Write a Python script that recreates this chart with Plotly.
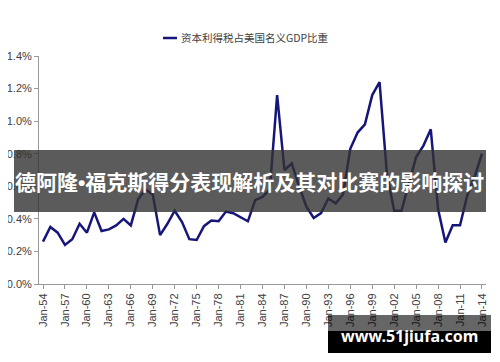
import plotly.graph_objects as go

years = list(range(1954, 2015))
cg_tax_share = [
    0.26, 0.35, 0.315, 0.24, 0.275, 0.37, 0.315, 0.44, 0.325, 0.335,
    0.36, 0.40, 0.36, 0.52, 0.58, 0.55, 0.30, 0.37, 0.45, 0.38,
    0.275, 0.27, 0.355, 0.39, 0.385, 0.445, 0.435, 0.41, 0.385, 0.515,
    0.535, 0.58, 1.16, 0.70, 0.74, 0.60, 0.475, 0.405, 0.435, 0.525,
    0.495, 0.55, 0.83, 0.93, 0.98, 1.16, 1.24, 0.68, 0.45, 0.45,
    0.62, 0.78, 0.85, 0.95, 0.46, 0.255, 0.36, 0.36, 0.545, 0.66,
    0.80,
]
tick_years = years[::3]
tick_labels = ["Jan-%02d" % (y % 100) for y in tick_years]
y_ticks = [0.0, 0.2, 0.4, 0.6, 0.8, 1.0, 1.2, 1.4]
series_name = "资本利得税占美国名义GDP比重"
banner_parts = ["德阿隆", "•", "福克斯得分表现解析及其对比赛的影响探讨"]
watermark_text = "www.51jiufa.com"

# page has an 8px body margin; figure is sized to fit inside the window
OFF = 8
W, H = 484, 346
PL, PR, PT, PB = 39, 486, 56, 284          # plot area in page pixels
L, T = PL - OFF, PT - OFF
R, B = W - (PR - OFF), H - (PB - OFF)
pw, ph = PR - PL, PB - PT


def px(x):
    return (x - PL) / pw


def py(y):
    return (PB - y) / ph


fig = go.Figure()
fig.add_trace(go.Scatter(
    x=years, y=cg_tax_share, mode="lines", name=series_name,
    line=dict(color="#16167a", width=2.5), showlegend=False,
))

tick_font = dict(family="Liberation Sans, Arial", size=11, color="#404040")
fig.update_layout(
    width=W, height=H,
    margin=dict(l=L, r=R, t=T, b=B),
    paper_bgcolor="white", plot_bgcolor="white",
    xaxis=dict(
        range=[1953.45, 2014.55], tickmode="array", tickvals=tick_years,
        ticktext=tick_labels, tickangle=-90, showgrid=False, zeroline=False,
        showline=True, linecolor="#999999", linewidth=1, automargin=False,
        ticks="outside", ticklen=4, tickcolor="#999999", tickfont=tick_font,
    ),
    yaxis=dict(
        range=[0, 1.4], tickmode="array", tickvals=y_ticks,
        ticktext=["%.1f%%" % v for v in y_ticks], showgrid=False,
        zeroline=False, showline=True, linecolor="#999999", linewidth=1,
        automargin=False,
        ticks="outside", ticklen=4, tickcolor="#999999", tickfont=tick_font,
    ),
)

# legend (drawn manually to match short sample line)
fig.add_shape(type="line", xref="paper", yref="paper",
              x0=px(163), x1=px(177), y0=py(38), y1=py(38),
              line=dict(color="#16167a", width=2.5))
fig.add_annotation(xref="paper", yref="paper", x=px(179), y=py(38),
                   xanchor="left", yanchor="middle", showarrow=False,
                   text=series_name,
                   font=dict(family="Noto Sans CJK SC", size=10.5, color="#404040"))

# overlay banner
fig.add_shape(type="rect", xref="paper", yref="paper", layer="above",
              x0=px(14), x1=px(486), y0=py(212), y1=py(150),
              fillcolor="rgba(50,50,50,0.8)", line=dict(width=0))
banner_html = ("<b>" + banner_parts[0]
               + '<span style="font-family:Liberation Sans">' + banner_parts[1] + "</span>"
               + banner_parts[2] + "</b>")
fig.add_annotation(xref="paper", yref="paper", x=px(249), y=py(181),
                   xanchor="center", yanchor="middle", showarrow=False,
                   text=banner_html,
                   font=dict(family="Noto Sans CJK SC", size=21, color="white"))

# watermark
fig.add_shape(type="rect", xref="paper", yref="paper", layer="above",
              x0=px(328), x1=px(491), y0=py(331), y1=py(315),
              fillcolor="rgba(0,0,0,0.6)", line=dict(width=0))
fig.add_shape(type="rect", xref="paper", yref="paper", layer="above",
              x0=px(328), x1=px(491), y0=py(353), y1=py(331),
              fillcolor="black", line=dict(width=0))
fig.add_annotation(xref="paper", yref="paper", x=px(409), y=py(336),
                   xanchor="center", yanchor="middle", showarrow=False,
                   text="<b>" + watermark_text + "</b>",
                   font=dict(family="Noto Sans", size=16, color="white"))

fig.write_html("out.html")
